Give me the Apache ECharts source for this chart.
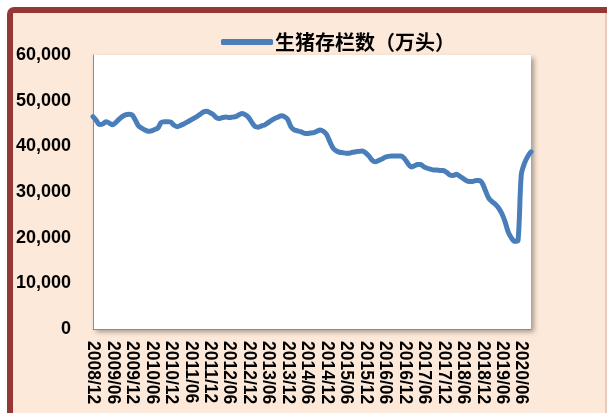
<!DOCTYPE html>
<html>
<head>
<meta charset="utf-8">
<script src="https://cdn.jsdelivr.net/npm/echarts@6/dist/echarts.min.js"></script>
<style>
  html, body { margin: 0; padding: 0; background: #fff; }
  #main { width: 607px; height: 413px; }
</style>
</head>
<body>
<div id="main"></div>
<script>
  // 月度类目：2008/12 到 2019/11，之后接 2020/06 - 2020/09
  const months = []
  for (let y = 2008, m = 12; y < 2019 || (y === 2019 && m <= 11);) {
    months.push(y + '/' + (m < 10 ? '0' + m : m))
    m++
    if (m > 12) { m = 1; y++ }
  }
  const extraMonths = ['2020/06', '2020/07', '2020/08', '2020/09']
  const categories = months.concat(extraMonths)

  const seriesName = '生猪存栏数（万头）'
  const hogStock = [
    46500, 45700, 44800, 44900, 45400, 45100, 44700, 45200, 45900, 46500,
    46900, 47000, 46900, 45800, 44500, 44000, 43600, 43300, 43400, 43700,
    44000, 45200, 45400, 45400, 45300, 44600, 44300, 44600, 44900, 45300,
    45700, 46100, 46500, 47000, 47500, 47700, 47400, 47000, 46300, 46100,
    46300, 46400, 46300, 46400, 46500, 46900, 47200, 46900, 46300, 45200,
    44300, 44200, 44500, 44700, 45200, 45700, 46100, 46400, 46700, 46500,
    45900, 44300, 43600, 43400, 43200, 42900, 42800, 42900, 43000, 43300,
    43600, 43300, 42600, 41000, 39600, 39000, 38700, 38600, 38500, 38500,
    38700, 38800, 38900, 39000, 38600, 37900, 37000, 36600, 36900, 37200,
    37600, 37800, 37900, 37900, 37900, 37900, 37300, 36300, 35500, 35700,
    36000, 36000, 35500, 35200, 35000, 34800, 34800, 34700, 34700, 34300,
    33700, 33600, 33900, 33500, 33000, 32500, 32300, 32300, 32500, 32500,
    31900, 30200, 28600, 27900, 27300, 26500, 25300, 23500, 21200, 19900,
    19200, 19400, 33800, 36300, 37800, 38800
  ]
  const yTicks = [0, 10000, 20000, 30000, 40000, 50000, 60000]

  const chart = echarts.init(document.getElementById('main'))

  const options = {
    backgroundColor: '#ffffff',
    animation: false,
    graphic: [
      {
        type: 'rect',
        z: -10,
        shape: { x: 10, y: 10, width: 640, height: 450, r: 4 },
        style: { fill: '#fde9d9', stroke: '#953735', lineWidth: 6 }
      },
      {
        type: 'line',
        z: -9,
        shape: { x1: 606, y1: 13, x2: 606, y2: 413 },
        style: { stroke: '#d2aaa4', lineWidth: 1 }
      }
    ],
    legend: {
      data: [seriesName],
      left: 216,
      top: 27,
      icon: 'roundRect',
      itemWidth: 52,
      itemHeight: 6,
      itemGap: 10,
      textStyle: {
        color: '#000',
        fontSize: 20,
        fontWeight: 'bold',
        fontFamily: 'Noto Sans CJK SC',
        padding: [0, 0, 0, -3]
      }
    },
    grid: {
      left: 93,
      top: 55,
      width: 438,
      height: 274,
      show: true,
      backgroundColor: '#ffffff',
      borderWidth: 0,
      shadowColor: 'rgba(0, 0, 0, 0.35)',
      shadowBlur: 5,
      shadowOffsetX: 3,
      shadowOffsetY: 3
    },
    xAxis: {
      type: 'category',
      boundaryGap: false,
      data: categories,
      axisLine: { lineStyle: { color: '#8c8c8c', width: 1 } },
      axisTick: { show: false },
      axisLabel: {
        interval: 5,
        rotate: -90,
        margin: 12,
        color: '#000',
        fontWeight: 'bold',
        fontSize: 17.5,
        fontFamily: 'Liberation Sans, Arial'
      }
    },
    yAxis: {
      type: 'value',
      min: yTicks[0],
      max: yTicks[yTicks.length - 1],
      interval: 10000,
      axisLine: { show: true, lineStyle: { color: '#8c8c8c', width: 1 } },
      axisTick: { show: false },
      splitLine: { show: false },
      axisLabel: {
        margin: 22,
        color: '#000',
        fontWeight: 'bold',
        fontSize: 18,
        fontFamily: 'Liberation Sans, Arial',
        formatter: function (v) {
          return v.toLocaleString('en-US')
        }
      }
    },
    series: [{
      name: seriesName,
      type: 'line',
      data: hogStock,
      smooth: 0.3,
      symbol: 'none',
      itemStyle: { color: '#4a7ebb' },
      lineStyle: { color: '#4a7ebb', width: 5, cap: 'round', join: 'round' }
    }]
  }

  chart.setOption(options)
</script>
</body>
</html>
